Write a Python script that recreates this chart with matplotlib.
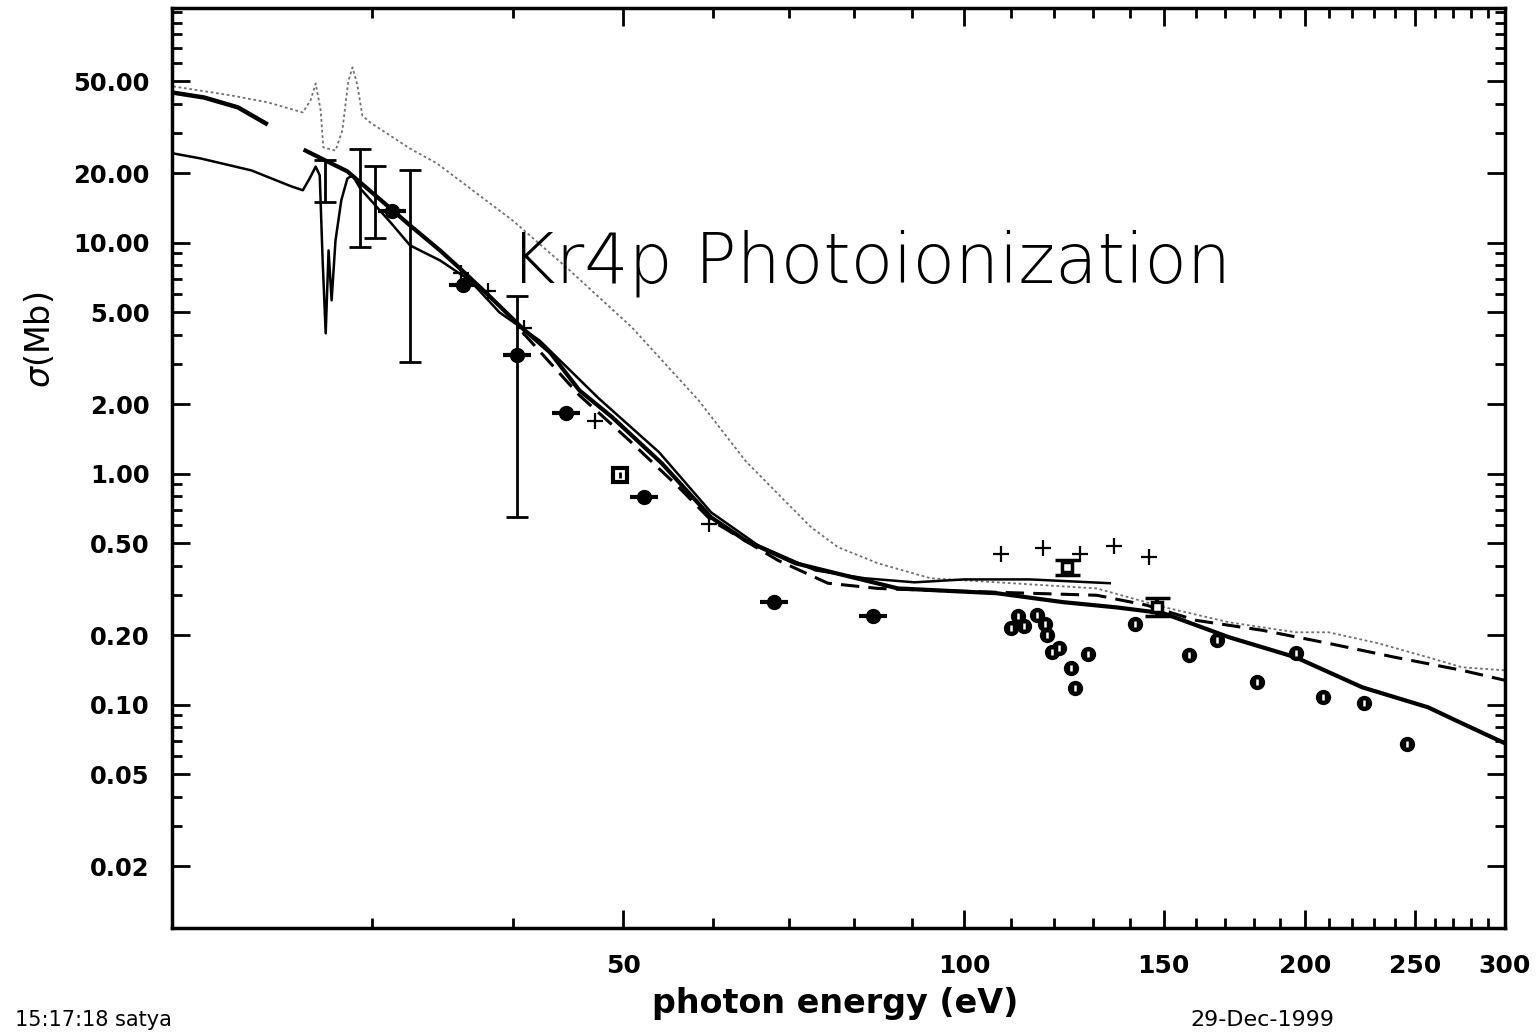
import numpy as np
import matplotlib.pyplot as plt
from matplotlib.ticker import FixedLocator, FixedFormatter, NullFormatter

# ---- theory curves (photon energy eV, cross section Mb) ----
# dotted curve, with the two resonances near 27-29 eV
e_dot = [20.05, 22.55, 24.3, 26.09, 26.5, 26.78, 27.05, 27.2, 27.88, 28.27, 28.62,
         28.86, 29.15, 29.44, 29.92, 32.44, 34.26, 39.96, 44.57, 50.9, 58.3, 64.1,
         68.97, 73.3, 77.4, 83.9, 93.4, 106.9, 130.9, 149.9, 171.3, 196.1, 209.6,
         232.0, 256.6, 274.9, 300.0]
s_dot = [47.6, 43.5, 40.6, 36.7, 41.4, 49.0, 37.5, 25.9, 25.1, 30.7, 50.5,
         57.5, 48.1, 35.6, 33.2, 25.6, 22.1, 12.5, 7.83, 4.31, 2.08, 1.14,
         0.791, 0.586, 0.481, 0.41, 0.353, 0.339, 0.319, 0.265, 0.2275, 0.206, 0.206,
         0.1845, 0.1605, 0.1453, 0.141]

# thin solid curve starting low at 20 eV, ends at ~135 eV
e_thin = [20.05, 21.2, 23.5, 25.46, 26.09, 26.45, 26.78, 27.0, 27.16, 27.33, 27.49,
          27.66, 27.88, 28.21, 28.56, 28.86, 29.32, 31.16, 32.44, 34.47, 36.63, 38.9,
          42.2, 47.6, 53.8, 59.8, 65.8, 73.9, 81.7, 90.4, 100.0, 114.3, 134.4]
s_thin = [24.4, 23.2, 20.6, 17.6, 16.9, 19.0, 21.4, 19.6, 8.4, 4.06, 9.28,
          5.64, 10.25, 15.3, 19.0, 19.6, 17.2, 12.3, 9.75, 8.4, 6.88, 5.0,
          3.78, 2.12, 1.24, 0.681, 0.490, 0.382, 0.353, 0.339, 0.349, 0.349, 0.336]

# thick solid curve
e_thick = [26.23, 28.56, 30.97, 32.44, 34.47, 35.9, 37.9, 40.77, 43.1, 45.75, 48.9,
           54.1, 59.8, 64.1, 70.96, 78.5, 87.4, 106.9, 122.4, 136.3, 149.9, 171.3,
           196.1, 224.5, 256.6, 274.9, 300.0]
s_thick = [25.1, 20.4, 14.5, 11.9, 9.28, 7.75, 6.04, 4.26, 3.36, 2.30, 1.76,
           1.11, 0.648, 0.515, 0.41, 0.363, 0.319, 0.304, 0.278, 0.264, 0.249, 0.196,
           0.1605, 0.119, 0.0975, 0.0831, 0.0681]

# dashed curve
e_dash = [40.77, 45.75, 50.6, 56.0, 59.8, 68.5, 75.8, 83.9, 93.4, 106.9, 130.9,
          144.8, 160.2, 183.4, 209.6, 240.0, 274.9, 300.0]
s_dash = [4.10, 2.19, 1.40, 0.874, 0.629, 0.422, 0.336, 0.319, 0.313, 0.307, 0.298,
          0.270, 0.232, 0.210, 0.1845, 0.1605, 0.141, 0.1276]

# short thick segment at low energy
e_short = [20.0, 21.35, 22.87, 24.2]
s_short = [44.8, 42.6, 38.6, 32.9]

# ---- experimental data ----
e_plus = [35.97, 37.98, 40.85, 47.2, 59.6, 107.8, 117.4, 126.5, 135.5, 145.7]
s_plus = [7.38, 6.17, 4.26, 1.70, 0.604, 0.448, 0.476, 0.448, 0.485, 0.435]

e_blob = [31.28, 36.1, 40.3, 44.57, 52.2, 67.9, 83.1]
s_blob = [13.8, 6.55, 3.26, 1.83, 0.791, 0.280, 0.2415]

e_sq = [49.7]
s_sq = [0.985]

e_circ = [110.0, 111.6, 112.9, 116.0, 117.8, 118.3, 119.5, 121.2, 124.2, 125.2,
          128.5, 141.6, 158.0, 167.2, 181.3, 196.1, 207.1, 225.5, 246.0]
s_circ = [0.214, 0.2415, 0.2186, 0.244, 0.223, 0.200, 0.170, 0.1756, 0.1438, 0.1179,
          0.1654, 0.223, 0.1637, 0.190, 0.1252, 0.167, 0.1077, 0.1015, 0.0675]

# large error bars (low, high)
e_bar = [27.3, 29.3, 30.2, 32.44, 40.3]
lo_bar = [15.0, 9.56, 10.45, 3.04, 0.648]
hi_bar = [22.8, 25.6, 21.6, 20.6, 5.9]

# small capped points
e_cap = [123.2, 147.8]
s_cap = [0.394, 0.264]
lo_cap = [0.366, 0.2415]
hi_cap = [0.424, 0.289]

x_major = [50, 100, 150, 200, 250, 300]
x_minor = [30, 40, 60, 70, 80, 90, 110, 120, 130, 140, 160, 170, 180, 190,
           210, 220, 230, 240, 260, 270, 280, 290]
y_major = [0.02, 0.05, 0.1, 0.2, 0.5, 1, 2, 5, 10, 20, 50]

fig = plt.figure(figsize=(15.37, 10.32), dpi=100)
ax = fig.add_axes([172/1537, 1-928/1032, 1333/1537, 920/1032])
ax.set_xscale('log')
ax.set_yscale('log')

ax.plot(e_dot, s_dot, color='#707070', lw=1.3, ls=(0, (1.5, 1.5)))
ax.plot(e_thin, s_thin, color='black', lw=1.8)
ax.plot(e_thick, s_thick, color='black', lw=3.0)
ax.plot(e_dash, s_dash, color='black', lw=2.2, ls=(0, (6, 3)))
ax.plot(e_short, s_short, color='black', lw=3.2)

s_bar = np.sqrt(np.array(lo_bar) * np.array(hi_bar))
ax.errorbar(e_bar, s_bar, yerr=[s_bar - np.array(lo_bar), np.array(hi_bar) - s_bar],
            fmt='none', ecolor='black', elinewidth=2, capsize=8, capthick=2)
ax.errorbar(e_cap, s_cap, yerr=[np.array(s_cap) - np.array(lo_cap), np.array(hi_cap) - np.array(s_cap)],
            fmt='s', ms=7, mfc='white', mec='black', mew=2.5,
            ecolor='black', elinewidth=3, capsize=9, capthick=3)

ax.plot(e_plus, s_plus, ls='none', marker='+', ms=12, mew=1.6, color='black')
ax.plot(e_blob, s_blob, ls='none', marker='o', ms=10, color='black')
ax.plot(e_blob, s_blob, ls='none', marker='_', ms=20, mew=3, color='black')
ax.plot(e_sq, s_sq, ls='none', marker='s', ms=10, mfc='white', mec='black', mew=3)
ax.plot(e_sq, s_sq, ls='none', marker='|', ms=5, mew=2, color='black')
ax.plot(e_circ, s_circ, ls='none', marker='o', ms=10, color='black')
ax.plot(e_circ, s_circ, ls='none', marker='|', ms=4, mew=1.8, color='white')

ax.set_xlim(20, 300)
ax.set_ylim(0.0108, 104)

ax.xaxis.set_major_locator(FixedLocator(x_major))
ax.xaxis.set_major_formatter(FixedFormatter([str(v) for v in x_major]))
ax.xaxis.set_minor_locator(FixedLocator(x_minor))
ax.xaxis.set_minor_formatter(NullFormatter())
ax.yaxis.set_major_locator(FixedLocator(y_major))
ax.yaxis.set_major_formatter(FixedFormatter(['%.2f' % v for v in y_major]))
ax.yaxis.set_minor_locator(FixedLocator([m * 10.0**k for k in range(-2, 2)
                                         for m in range(2, 10)] + [100]))
ax.yaxis.set_minor_formatter(NullFormatter())

ax.tick_params(which='both', direction='in', top=True, right=True, width=2)
ax.tick_params(which='major', length=13)
ax.tick_params(which='minor', length=7)
ax.tick_params(axis='y', which='major', pad=16)
ax.tick_params(axis='x', which='major', pad=19)
for lab in ax.get_yticklabels():
    lab.set_fontsize(17.5)
    lab.set_fontweight('bold')
for lab in ax.get_xticklabels():
    lab.set_fontsize(18)
    lab.set_fontweight('bold')
for sp in ax.spines.values():
    sp.set_linewidth(2.5)

ax.text(0.2536, 0.702, 'Kr4p Photoionization', transform=ax.transAxes,
        fontsize=50, fontweight='light', ha='left', va='baseline', color='black')

fig.text(835/1537, 1-1004/1032, 'photon energy (eV)', ha='center', va='center',
         fontsize=24, fontweight='bold')
fig.text(40/1537, 1-340/1032, r'$\sigma$(Mb)', ha='center', va='center',
         rotation=90, fontsize=24)
fig.text(15/1537, 1-1010/1032, '15:17:18 satya', ha='left', va='top',
         fontsize=15)
fig.text(1190/1537, 1-1010/1032, '29-Dec-1999', ha='left', va='top',
         fontsize=16)

fig.savefig('out.png', dpi=100)
